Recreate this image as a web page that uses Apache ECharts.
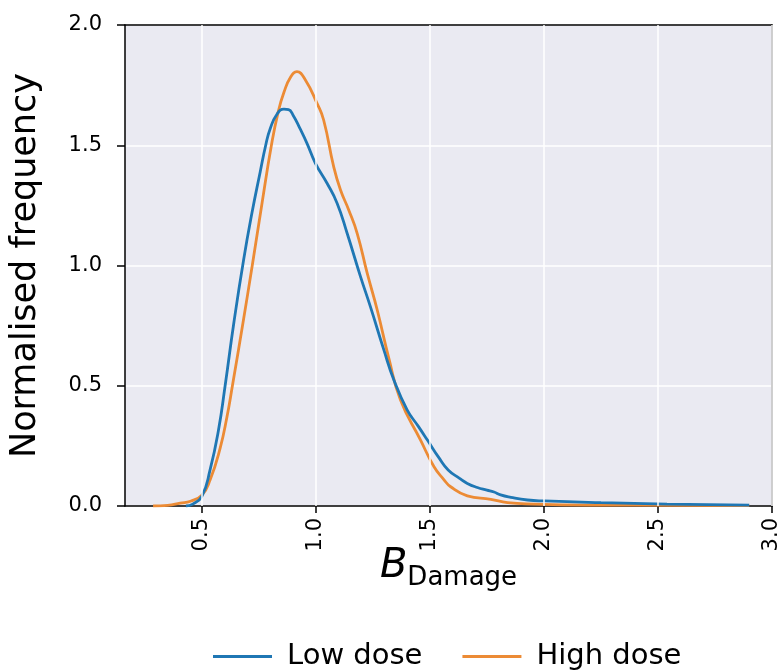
<!DOCTYPE html>
<html>
<head>
<meta charset="utf-8">
<title>B Damage distribution</title>
<script src="https://cdn.jsdelivr.net/npm/echarts@6/dist/echarts.min.js"></script>
<style>
  html, body { margin: 0; padding: 0; background: #fff; }
  #chart { width: 784px; height: 670px; }
</style>
</head>
<body>
<div id="chart"></div>
<script>
// values (x = B_Damage, y = normalised frequency)
const lowX = [0.43, 0.46, 0.50, 0.536, 0.573, 0.602, 0.64, 0.683, 0.72, 0.756, 0.78, 0.80, 0.83, 0.86, 0.88, 0.90, 0.93,
  0.961, 0.998, 1.049, 1.093, 1.137, 1.196, 1.239, 1.298, 1.342, 1.40, 1.45, 1.489, 1.54, 1.58, 1.63, 1.664,
  1.708, 1.75, 1.781, 1.81, 1.855, 1.928, 2.0, 2.25, 2.54, 2.90];
const lowY = [0.0, 0.008, 0.04, 0.15, 0.316, 0.50, 0.76, 1.023, 1.22, 1.39, 1.50, 1.57, 1.63, 1.65, 1.648, 1.625, 1.57,
  1.508, 1.425, 1.342, 1.259, 1.134, 0.953, 0.829, 0.649, 0.524, 0.40, 0.33, 0.274, 0.20, 0.15, 0.115, 0.094,
  0.077, 0.066, 0.058, 0.046, 0.036, 0.025, 0.021, 0.014, 0.008, 0.004];

const highX = [0.286, 0.35, 0.405, 0.45, 0.50, 0.536, 0.58, 0.61, 0.634, 0.68, 0.721, 0.764, 0.805, 0.835, 0.86, 0.89, 0.917,
  0.954, 1.005, 1.034, 1.078, 1.108, 1.144, 1.181, 1.225, 1.269, 1.32, 1.371, 1.459, 1.518, 1.561, 1.591,
  1.664, 1.767, 1.84, 1.957, 2.2, 2.6, 2.9];
const highY = [0.0, 0.003, 0.012, 0.02, 0.045, 0.108, 0.24, 0.37, 0.50, 0.76, 1.0, 1.26, 1.50, 1.64, 1.72, 1.785, 1.806,
  1.771, 1.674, 1.605, 1.411, 1.314, 1.231, 1.134, 0.968, 0.815, 0.614, 0.441, 0.274, 0.163, 0.11, 0.08,
  0.042, 0.028, 0.014, 0.008, 0.004, 0.003, 0.002];

const xTicks = [0.5, 1.0, 1.5, 2.0, 2.5, 3.0];
const seriesNames = ['Low dose', 'High dose'];
const colors = ['#1f77b4', '#ec8b35'];

const FONT = 'DejaVu Sans';
const X_MIN = 0.163;
const X_MAX = 3.0;

const toPairs = (xs, ys) => xs.map((x, i) => [x, ys[i]]);

const blackLine = { show: true, onZero: false, lineStyle: { color: '#000', width: 1.5 } };

const chart = echarts.init(document.getElementById('chart'));

chart.setOption({
  animation: false,
  textStyle: { fontFamily: FONT, color: '#000' },
  grid: {
    left: 125,
    right: 12,
    top: 25,
    bottom: 164,
    show: true,
    backgroundColor: '#eaeaf2',
    borderWidth: 0,
  },
  legend: {
    data: seriesNames.map((name) => ({ name, icon: 'rect' })),
    left: 208,
    bottom: -6,
    itemWidth: 59,
    itemHeight: 3,
    itemGap: 40,
    textStyle: { fontFamily: FONT, fontSize: 29, color: '#000', padding: [0, 0, 0, 10] },
  },
  xAxis: [
    {
      type: 'value',
      min: X_MIN,
      max: X_MAX,
      axisLine: blackLine,
      axisTick: {
        show: true,
        customValues: xTicks,
        length: 7,
        lineStyle: { color: '#000', width: 1.5 },
      },
      axisLabel: {
        customValues: xTicks,
        rotate: 90,
        margin: 12,
        fontSize: 21,
        fontFamily: FONT,
        color: '#000',
        formatter: (v) => v.toFixed(1),
      },
      splitLine: { show: false },
      name: '{b|B}{s|Damage}',
      nameLocation: 'middle',
      nameMoveOverlap: false,
      nameGap: 41,
      nameTextStyle: {
        rich: {
          b: { fontSize: 40, fontStyle: 'italic', fontFamily: FONT, color: '#000', verticalAlign: 'bottom' },
          s: { fontSize: 26, fontFamily: FONT, color: '#000', verticalAlign: 'bottom', padding: [0, 0, -4, 0] },
        },
      },
    },
    {
      // top frame line
      type: 'value',
      position: 'top',
      min: X_MIN,
      max: X_MAX,
      axisLine: blackLine,
      axisTick: { show: false },
      axisLabel: { show: false },
      splitLine: { show: false },
    },
  ],
  yAxis: [
    {
      type: 'value',
      min: 0,
      max: 2,
      interval: 0.5,
      axisLine: blackLine,
      axisTick: { show: true, length: 8, lineStyle: { color: '#000', width: 1.5 } },
      axisLabel: {
        margin: 23,
        fontSize: 21,
        fontFamily: FONT,
        color: '#000',
        formatter: (v) => v.toFixed(1),
      },
      splitLine: { show: true, lineStyle: { color: '#fff', width: 1.5 } },
      name: 'Normalised frequency',
      nameLocation: 'middle',
      nameGap: 82,
      nameTextStyle: { fontSize: 35, fontFamily: FONT, color: '#000' },
    },
    {
      // right frame line
      type: 'value',
      position: 'right',
      min: 0,
      max: 2,
      axisLine: blackLine,
      axisTick: { show: false },
      axisLabel: { show: false },
      splitLine: { show: false },
    },
  ],
  series: [
    {
      // vertical white grid lines at the tick values
      name: 'grid',
      type: 'line',
      data: [],
      z: 1,
      silent: true,
      markLine: {
        silent: true,
        symbol: ['none', 'none'],
        label: { show: false },
        lineStyle: { color: '#fff', width: 1.5, type: 'solid' },
        data: xTicks.map((v) => ({ xAxis: v })),
      },
    },
    {
      name: seriesNames[0],
      type: 'line',
      data: toPairs(lowX, lowY),
      symbol: 'none',
      smooth: 0.5,
      z: 3,
      color: colors[0],
      lineStyle: { width: 2.8, color: colors[0] },
    },
    {
      name: seriesNames[1],
      type: 'line',
      data: toPairs(highX, highY),
      symbol: 'none',
      smooth: 0.5,
      z: 2,
      color: colors[1],
      lineStyle: { width: 2.8, color: colors[1] },
    },
  ],
});
</script>
</body>
</html>
